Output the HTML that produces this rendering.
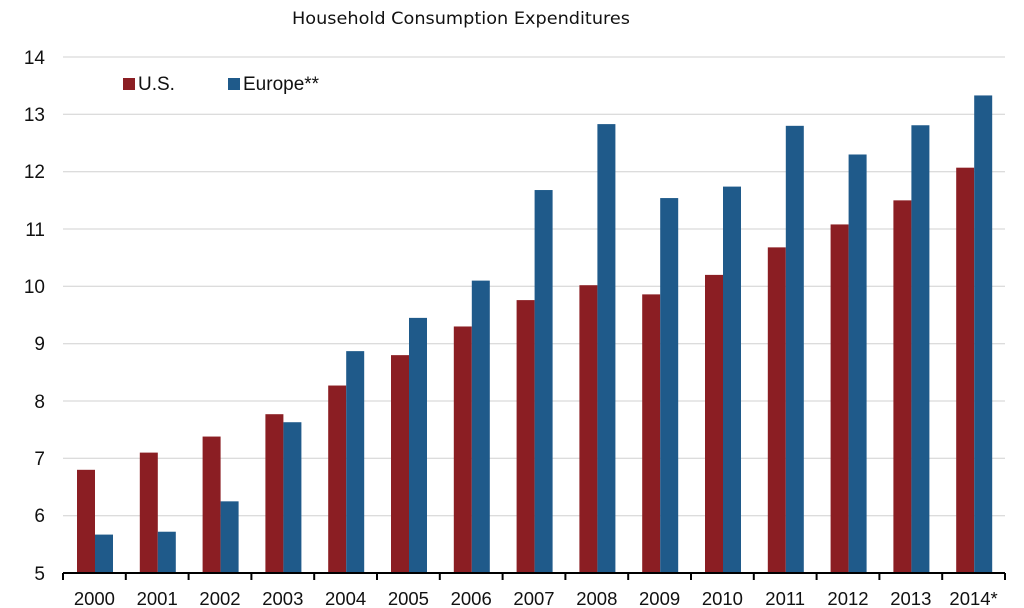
<!DOCTYPE html>
<html><head><meta charset="utf-8"><style>body{margin:0;background:#fff}svg{display:block}</style></head><body>
<svg width="1024" height="608" viewBox="0 0 1024 608" xmlns="http://www.w3.org/2000/svg" font-family="Liberation Sans, sans-serif">
<text x="461" y="24" font-size="17" text-anchor="middle" fill="#111" font-family="DejaVu Sans, sans-serif" textLength="338" lengthAdjust="spacingAndGlyphs">Household Consumption Expenditures</text>
<g stroke="#d0d0d0" stroke-width="1">
<line x1="63" x2="1005" y1="57" y2="57"/><line x1="63" x2="1005" y1="114.3" y2="114.3"/><line x1="63" x2="1005" y1="171.7" y2="171.7"/><line x1="63" x2="1005" y1="229" y2="229"/><line x1="63" x2="1005" y1="286.3" y2="286.3"/><line x1="63" x2="1005" y1="343.7" y2="343.7"/><line x1="63" x2="1005" y1="401" y2="401"/><line x1="63" x2="1005" y1="458.3" y2="458.3"/><line x1="63" x2="1005" y1="515.7" y2="515.7"/>
</g>
<g font-size="19" fill="#111" text-anchor="end">
<text x="45" y="64">14</text><text x="45" y="121">13</text><text x="45" y="178">12</text><text x="45" y="236">11</text><text x="45" y="293">10</text><text x="45" y="350">9</text><text x="45" y="408">8</text><text x="45" y="465">7</text><text x="45" y="522">6</text><text x="45" y="580">5</text>
</g>
<rect x="123" y="78" width="12" height="12" fill="#8b1e23"/><text x="138" y="90" font-size="19" fill="#111">U.S.</text>
<rect x="228" y="78" width="12" height="12" fill="#1f5a8a"/><text x="243" y="90" font-size="19" fill="#111">Europe**</text>
<g id="bars"></g>
<line x1="63" x2="1005" y1="573" y2="573" stroke="#000" stroke-width="2"/>
<g id="ticks" stroke="#000" stroke-width="2"></g>
<g id="labels" font-size="18.5" fill="#111" text-anchor="middle"></g>
<script>
var us=[6.8,7.1,7.38,7.77,8.27,8.8,9.3,9.76,10.02,9.86,10.2,10.68,11.08,11.5,12.07];
var eu=[5.67,5.72,6.25,7.63,8.87,9.45,10.1,11.68,12.83,11.54,11.74,12.8,12.3,12.81,13.33];
var ns="http://www.w3.org/2000/svg",b=document.getElementById('bars'),t=document.getElementById('ticks'),l=document.getElementById('labels');
function Y(v){return 573-(v-5)*57.33;}
function el(p,n,a){var e=document.createElementNS(ns,n);for(var k in a)e.setAttribute(k,a[k]);p.appendChild(e);return e;}
for(var i=0;i<15;i++){var g=63+i*62.8;
el(b,'rect',{x:g+14,y:Y(us[i]),width:18,height:573-Y(us[i]),fill:'#8b1e23'});
el(b,'rect',{x:g+32,y:Y(eu[i]),width:18,height:573-Y(eu[i]),fill:'#1f5a8a'});
el(t,'line',{x1:g,x2:g,y1:573,y2:580});
var tx=el(l,'text',{x:g+31.4,y:605});tx.textContent=(2000+i)+(i==14?'*':'');}
el(t,'line',{x1:1005,x2:1005,y1:573,y2:580});
</script>
</svg>
</body></html>
